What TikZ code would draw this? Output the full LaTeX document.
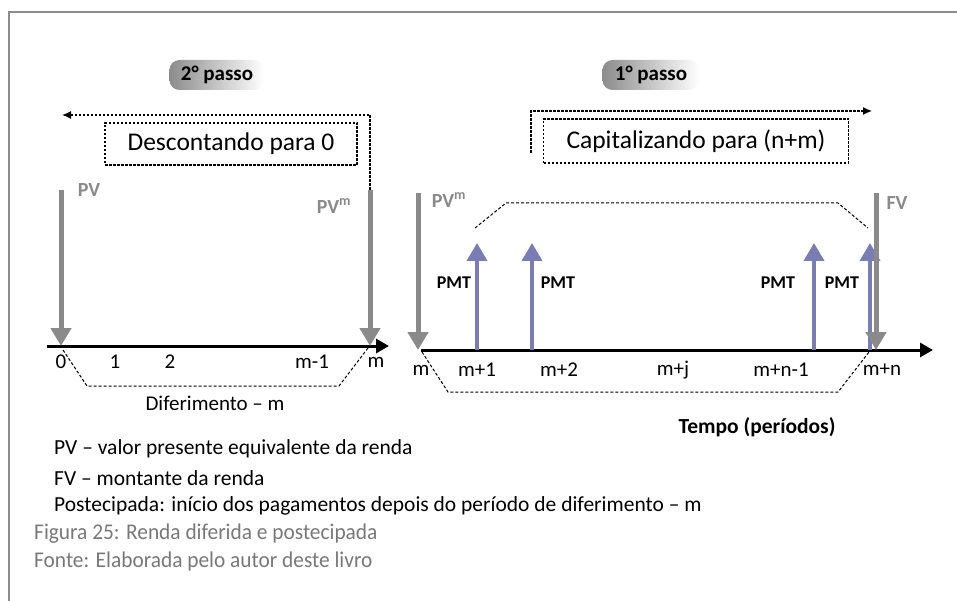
\documentclass[tikz,border=0pt]{standalone}
\usepackage{fontspec}
\setmainfont{Carlito}
\newfontfamily\capfont[FakeStretch=0.95]{Carlito}
\usepackage{tikz}
\usetikzlibrary{arrows.meta}

\definecolor{cashgray}{RGB}{138,138,138}
\definecolor{pmtblue}{RGB}{122,124,182}
\definecolor{framegray}{RGB}{140,140,140}
\definecolor{capgray}{RGB}{120,120,120}

\tikzset{
  cashdown/.style={cashgray, line width=5pt, -{Triangle[width=20pt,length=18pt]}},
  pmtup/.style={pmtblue, line width=4pt, -{Triangle[width=20pt,length=18pt]}},
  timeaxis/.style={line width=3pt, -{Triangle[width=14pt,length=13pt]}},
  stepline/.style={line width=1.3pt, dash pattern=on 2.5pt off 1.5pt, -{Latex[width=8pt,length=9pt]}},
  stepbox/.style={draw, line width=1.3pt, dash pattern=on 2.5pt off 1.5pt, font=\fontsize{25.5}{30}\selectfont},
  spanline/.style={line width=1pt, dash pattern=on 3pt off 2pt},
  badge/.style={rounded corners=10pt, left color=black!45, right color=white, minimum height=30pt, font=\bfseries\fontsize{21}{24}\selectfont},
  cashlabel/.style={cashgray, font=\bfseries\fontsize{20}{24}\selectfont},
  pmtlabel/.style={font=\bfseries\fontsize{18}{20}\selectfont},
  ticklabel/.style={font=\fontsize{21}{24}\selectfont},
  legend/.style={anchor=west, inner sep=0pt, font=\fontsize{21.5}{26}\selectfont},
  caption/.style={anchor=west, inner sep=0pt, capgray, font=\capfont\fontsize{22.5}{26}\selectfont}
}

\begin{document}
\begin{tikzpicture}[x=1pt,y=-1pt]
\useasboundingbox (0,0) rectangle (957,601);
\draw[framegray, line width=2.5pt] (9,601) -- (9,12) -- (957,12);

% 2o passo: descontando
\coordinate (la0) at (47,346);
\coordinate (la1) at (389,346);
\draw[timeaxis] (la0) -- (la1);
\coordinate (z0) at (61,346);
\coordinate (zm) at (370,346);
\coordinate (pvtop) at (61,190);
\coordinate (pvmtop) at (370,190);
\draw[cashdown] (pvtop) -- (z0);
\draw[cashdown] (pvmtop) -- (zm);
\node[cashlabel] (pv) at (89,190) {PV};
\node[cashlabel] (pvm) at (334,206) {PV\textsuperscript{m}};

\node[badge, minimum width=95pt] (passo2) at (217,75) {2° passo};
\coordinate (back) at (62,115);
\draw[stepline] (pvmtop) |- (back);
\node[stepbox, minimum width=252pt, minimum height=42pt] (desc) at (231,144) {Descontando para 0};

\node[ticklabel] (l0) at (61,362) {0};
\node[ticklabel] (l1) at (115,362) {1};
\node[ticklabel] (l2) at (170,362) {2};
\node[ticklabel] (lm1) at (312,362) {m-1};
\node[ticklabel] (lm) at (376,362) {m};

\coordinate (d0) at (63,350);
\coordinate (d1) at (87,386);
\coordinate (d2) at (339,386);
\coordinate (d3) at (368,348);
\draw[spanline] (d0) -- (d1) -- (d2) -- (d3);
\node[ticklabel] (dif) at (215,403) {Diferimento – m};

% 1o passo: capitalizando
\coordinate (ra0) at (421,350);
\coordinate (ra1) at (933,350);
\draw[timeaxis] (ra0) -- (ra1);
\coordinate (pvmtop2) at (418,193);
\coordinate (pvmbot2) at (418,350);
\draw[cashdown] (pvmtop2) -- (pvmbot2);
\node[cashlabel] (pvm2) at (449,200) {PV\textsuperscript{m}};

\foreach \px/\nm in {477/p1, 532/p2, 814/p3, 870/p4}{
  \coordinate (\nm b) at (\px,350);
  \coordinate (\nm t) at (\px,243);
  \draw[pmtup] (\nm b) -- (\nm t);
}
\node[pmtlabel] (pmt1) at (454,283) {PMT};
\node[pmtlabel] (pmt2) at (558,283) {PMT};
\node[pmtlabel] (pmt3) at (778,283) {PMT};
\node[pmtlabel] (pmt4) at (842,283) {PMT};

\coordinate (fvtop) at (876,193);
\coordinate (fvbot) at (876,350);
\draw[cashdown] (fvtop) -- (fvbot);
\node[cashlabel] (fv) at (897,203) {FV};

\node[badge, minimum width=97pt] (passo1) at (651,75) {1° passo};
\coordinate (fwd0) at (531,153);
\coordinate (fwd1) at (872,111);
\draw[stepline] (fwd0) |- (fwd1);
\node[stepbox, minimum width=305pt, minimum height=44pt] (cap) at (696,141) {Capitalizando para (n+m)};

\coordinate (u0) at (475,228);
\coordinate (u1) at (506,203);
\coordinate (u2) at (838,203);
\coordinate (u3) at (868,228);
\draw[spanline] (u0) -- (u1) -- (u2) -- (u3);
\coordinate (w0) at (422,352);
\coordinate (w1) at (448,392);
\coordinate (w2) at (838,392);
\coordinate (w3) at (869,352);
\draw[spanline] (w0) -- (w1) -- (w2) -- (w3);

\node[ticklabel] (r0) at (421,370) {m};
\node[ticklabel] (r1) at (477,370) {m+1};
\node[ticklabel] (r2) at (559,370) {m+2};
\node[ticklabel] (rj) at (673,370) {m+j};
\node[ticklabel] (rn1) at (781,370) {m+n-1};
\node[ticklabel] (rn) at (882,370) {m+n};
\node[ticklabel, font=\bfseries\fontsize{21.5}{24}\selectfont] (tempo) at (757,427) {Tempo (períodos)};

% legenda e fonte
\node[legend] (leg1) at (54,449) {PV – valor presente equivalente da renda};
\node[legend] (leg2) at (54,478) {FV – montante da renda};
\node[legend] (leg3) at (54,506) {Postecipada: início dos pagamentos depois do período de diferimento – m};
\node[caption] (fig) at (34,534) {Figura 25: Renda diferida e postecipada};
\node[caption] (fonte) at (34,561) {Fonte: Elaborada pelo autor deste livro};
\end{tikzpicture}
\end{document}
